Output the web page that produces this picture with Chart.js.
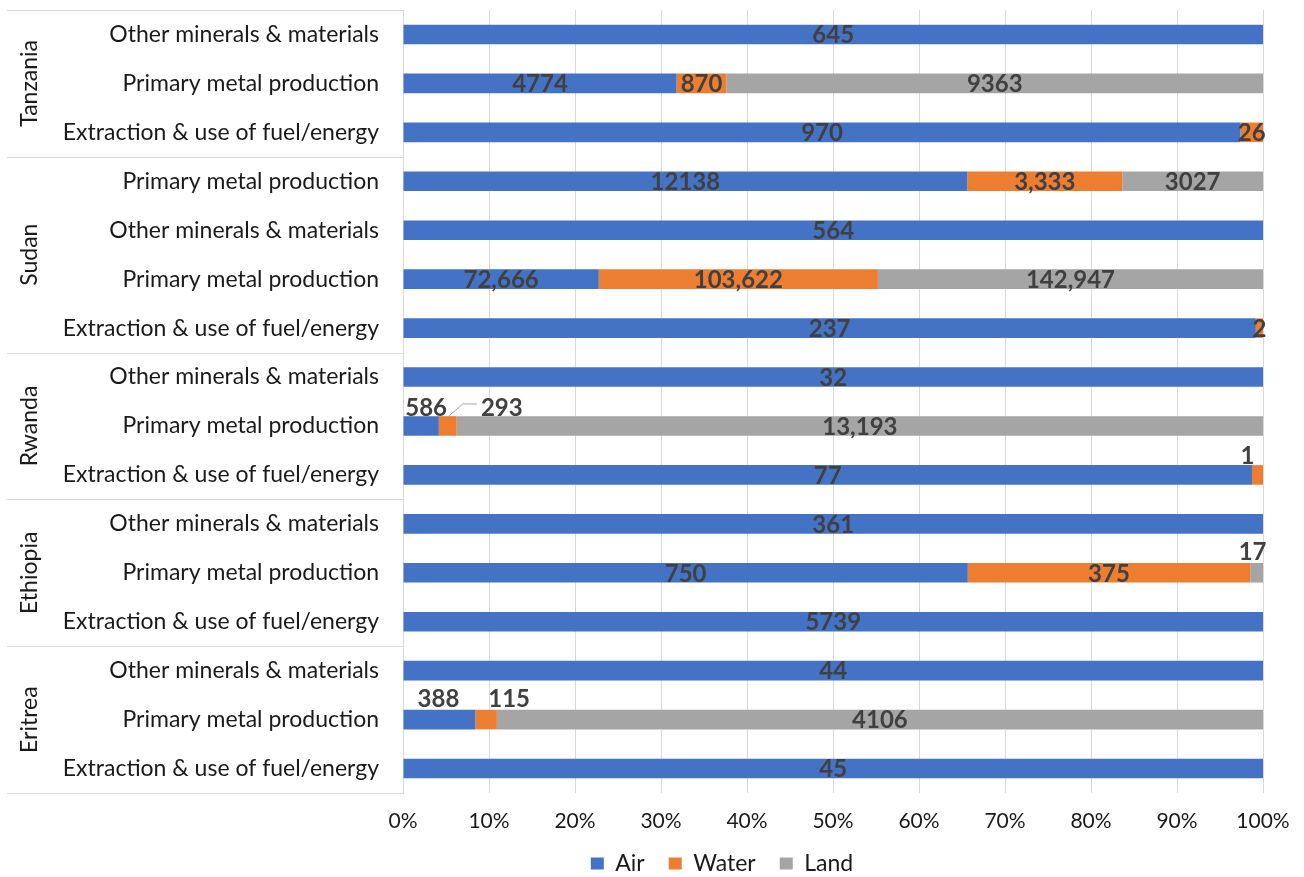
<!DOCTYPE html>
<html>
<head>
<meta charset="utf-8">
<script src="https://cdn.jsdelivr.net/npm/chart.js@4.4.1/dist/chart.umd.min.js"></script>
<style>
  html, body { margin: 0; padding: 0; background: #ffffff; }
  #wrap { width: 1304px; height: 877px; position: relative; }
</style>
</head>
<body>
<div id="wrap"><canvas id="c"></canvas></div>
<script>
// ---- data (top to bottom) ----
const categories = [
  'Other minerals & materials', 'Primary metal production', 'Extraction & use of fuel/energy',
  'Primary metal production', 'Other minerals & materials', 'Primary metal production', 'Extraction & use of fuel/energy',
  'Other minerals & materials', 'Primary metal production', 'Extraction & use of fuel/energy',
  'Other minerals & materials', 'Primary metal production', 'Extraction & use of fuel/energy',
  'Other minerals & materials', 'Primary metal production', 'Extraction & use of fuel/energy'
];
const countries = ['Tanzania', 'Sudan', 'Rwanda', 'Ethiopia', 'Eritrea'];
const countrySizes = [3, 4, 3, 3, 3];
const seriesNames = ['Air', 'Water', 'Land'];
const air   = [645, 4774, 970, 12138, 564, 72666, 237, 32, 586, 77, 361, 750, 5739, 44, 388, 45];
const water = [0, 870, 26, 3333, 0, 103622, 2, 0, 293, 1, 0, 375, 0, 0, 115, 0];
const land  = [0, 9363, 0, 3027, 0, 142947, 0, 0, 13193, 0, 0, 17, 0, 0, 4106, 0];
const xTickValues = [0, 10, 20, 30, 40, 50, 60, 70, 80, 90, 100];
// labels written with a thousands separator in the original
const commaLabels = ['Water:3', 'Air:5', 'Water:5', 'Land:5', 'Land:8'];

// ---- styling / label placement (not data) ----
const colors = ['#4472C4', '#ED7D31', '#A5A5A5'];
const labelOffsets = {
  'Air:8': [5, -19], 'Water:8': [54, -19],
  'Water:9': [-10, -20],
  'Land:11': [-4, -22],
  'Air:14': [-1, -21], 'Water:14': [23, -21]
};
const leader = { key: 'Water:8', pts: [[0, -9], [15, -22], [29, -22]] };
const FONT = 'Lato';
const TEXT = '#1a1a1a';
const PLOT_LEFT = 403;
const LEGEND_CENTER_X = 722;

const raw = [air, water, land];
const totals = categories.map((_, i) => air[i] + water[i] + land[i]);
const pct = arr => arr.map((v, i) => v / totals[i] * 100);

function fmt(v, key) {
  return commaLabels.includes(key) ? v.toLocaleString('en-US') : String(v);
}

const segLabels = {
  id: 'segLabels',
  afterDatasetsDraw(chart) {
    const ctx = chart.ctx;
    ctx.save();
    ctx.font = 'bold 24px ' + FONT;
    ctx.fillStyle = '#404040';
    ctx.textAlign = 'center';
    ctx.textBaseline = 'middle';
    chart.data.datasets.forEach((ds, di) => {
      const meta = chart.getDatasetMeta(di);
      meta.data.forEach((bar, i) => {
        const v = raw[di][i];
        if (!v) return;
        const key = ds.label + ':' + i;
        const off = labelOffsets[key] || [0, 0];
        const cx = (bar.x + bar.base) / 2;
        const cy = bar.y;
        ctx.fillText(fmt(v, key), cx + off[0], cy + off[1] + 1);
        if (key === leader.key) {
          ctx.save();
          ctx.strokeStyle = '#A6A6A6';
          ctx.lineWidth = 1;
          ctx.beginPath();
          leader.pts.forEach((p, k) => {
            if (k === 0) ctx.moveTo(cx + p[0], cy + p[1]);
            else ctx.lineTo(cx + p[0], cy + p[1]);
          });
          ctx.stroke();
          ctx.restore();
        }
      });
    });
    ctx.restore();
  }
};

const groupAxis = {
  id: 'groupAxis',
  afterLayout(chart) {
    // move the centred legend row to the horizontal position used by the original
    const lg = chart.legend;
    if (lg) {
      const shift = LEGEND_CENTER_X - (lg.left + lg.right) / 2;
      lg.left += shift;
      lg.right += shift;
    }
  },
  afterDraw(chart) {
    const ctx = chart.ctx;
    const area = chart.chartArea;
    const band = (area.bottom - area.top) / categories.length;
    ctx.save();
    ctx.strokeStyle = '#D9D9D9';
    ctx.lineWidth = 1;
    let idx = 0;
    const bounds = [0];
    countrySizes.forEach(n => { idx += n; bounds.push(idx); });
    bounds.forEach(b => {
      const y = Math.round(area.top + b * band) + 0.5;
      ctx.beginPath();
      ctx.moveTo(7, y);
      ctx.lineTo(area.left, y);
      ctx.stroke();
    });
    ctx.fillStyle = TEXT;
    ctx.font = '23px ' + FONT;
    ctx.textAlign = 'center';
    ctx.textBaseline = 'middle';
    countries.forEach((c, k) => {
      const yc = area.top + (bounds[k] + bounds[k + 1]) / 2 * band;
      ctx.save();
      ctx.translate(30, yc);
      ctx.rotate(-Math.PI / 2);
      ctx.fillText(c, 0, 0);
      ctx.restore();
    });
    ctx.restore();
  }
};

function zeroPad(scale) {
  scale.paddingTop = 0; scale.paddingBottom = 0;
  scale.paddingLeft = 0; scale.paddingRight = 0;
}

new Chart(document.getElementById('c'), {
  type: 'bar',
  data: {
    labels: categories,
    datasets: seriesNames.map((n, k) => ({
      label: n,
      data: pct(raw[k]),
      backgroundColor: colors[k],
      borderWidth: 0,
      categoryPercentage: 1,
      barPercentage: 0.4
    }))
  },
  options: {
    indexAxis: 'y',
    responsive: true,
    maintainAspectRatio: false,
    animation: false,
    layout: { padding: { top: 10, right: 41, left: 0, bottom: 5 } },
    scales: {
      x: {
        stacked: true,
        min: 0, max: 100,
        afterBuildTicks(scale) { scale.ticks = xTickValues.map(v => ({ value: v })); },
        ticks: {
          callback: v => v + '%',
          color: TEXT,
          font: { family: FONT, size: 21 },
          padding: 16,
          maxRotation: 0
        },
        grid: { color: '#D9D9D9', drawTicks: false },
        border: { display: false },
        afterFit(scale) { scale.height = 35; zeroPad(scale); }
      },
      y: {
        stacked: true,
        ticks: {
          color: TEXT,
          font: { family: FONT, size: 23 },
          padding: 24,
          autoSkip: false
        },
        grid: { display: false, drawTicks: false },
        border: { display: true, color: '#D9D9D9' },
        afterFit(scale) { scale.width = PLOT_LEFT; zeroPad(scale); }
      }
    },
    plugins: {
      legend: {
        position: 'bottom',
        maxHeight: 44,
        labels: {
          boxWidth: 13, boxHeight: 12,
          color: TEXT,
          font: { family: FONT, size: 23 },
          padding: 24
        }
      },
      tooltip: { enabled: false }
    }
  },
  plugins: [segLabels, groupAxis]
});
</script>
</body>
</html>
